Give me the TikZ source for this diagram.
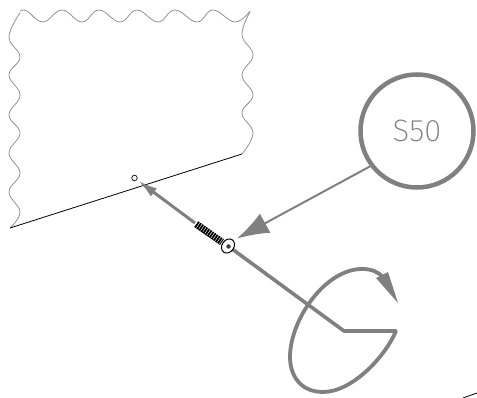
\documentclass[tikz,border=0pt]{standalone}
\usepackage{fontspec}
\usetikzlibrary{arrows.meta,calc,shapes.geometric}
\newfontfamily\labelfont{Fira Sans ExtraLight}
\definecolor{callgray}{gray}{0.5}
\tikzset{
  x=1pt,y=-1pt,
  thickgray/.style={draw=callgray,line width=3.6pt,line join=round},
  wave/.style={draw=black!45,line width=0.75pt},
  edgeline/.style={draw=black,line width=0.8pt},
  callout/.style={circle,draw=callgray,line width=4.5pt,minimum size=113pt,inner sep=0pt,text=callgray,font=\labelfont\fontsize{31}{31}\selectfont},
}
\begin{document}
\begin{tikzpicture}
\useasboundingbox (0,0) rectangle (477,398);
% wavy sheet outline
\draw[wave] plot[smooth,tension=0.7] coordinates {(10,228) (20,212) (9,192) (20,173) (9,153) (20,133) (9,115) (20,95) (9,75) (20,57) (9,37) (20,13)};
\draw[wave] plot[smooth,tension=0.7] coordinates {(20,11) (27,11) (43,22) (62,10) (82,22) (99,10) (120,22) (137,10) (158,22) (175,10) (197,22) (213,10) (235,22) (250,11)};
\draw[wave] plot[smooth,tension=0.7] coordinates {(250,12) (242,35) (253,55) (242,75) (253,95) (242,113) (253,133) (242,154)};
\draw[edgeline] (10,228) -- (242,154);
% hole
\node[draw=black,line width=0.7pt,fill=white,circle,minimum size=5.5pt,inner sep=0pt] (hole) at (134.5,178) {};
% shaft
\coordinate (shaftA) at (195,223);
\coordinate (headC) at (228,246);
\coordinate (bend) at (344,331);
\coordinate (tail) at (396,331);
\draw[draw=callgray,line width=3pt,-{Latex[length=20pt,width=10pt]},shorten >=1pt] (shaftA) -- (hole);
\draw[thickgray] (headC) -- (bend) -- (tail);
% spiral arrow
\fill[callgray] (398,303) -- (376,278) -- (388,272) -- cycle;
\draw[draw=callgray,line width=3.8pt,line cap=round] (tail) .. controls (385,357) and (352,392) .. (323,392)
  .. controls (300,392) and (290,375) .. (290,357)
  .. controls (290,320) and (325,269) .. (362,269)
  .. controls (372,269) and (378,272) .. (383,277);
% screw
\draw[black,line width=7pt] (196,224) -- (222,242);
\foreach \t in {0,0.08,...,1.0}{
  \draw[white,line width=0.45pt] ($(197,222.5)!\t!(223,240.5)$) +(2.6,-3.8) -- +(-2.6,3.8);
}
\node[draw=black,line width=1pt,fill=white,ellipse,minimum width=12pt,minimum height=15pt,inner sep=0pt,rotate=-35] (head) at (headC) {};
\node[fill=black!75,circle,minimum size=4.5pt,inner sep=0pt] (socket) at (228.5,246.5) {};
% callout
\node[callout] (s50) at (417,131) {S50};
\coordinate (pointer) at (237,238.5);
\draw[draw=callgray,line width=2pt,{Latex[length=32pt,width=22pt]}-] (pointer) -- (s50.217);
\draw[edgeline] (463,398) -- (477,393);
\end{tikzpicture}
\end{document}
